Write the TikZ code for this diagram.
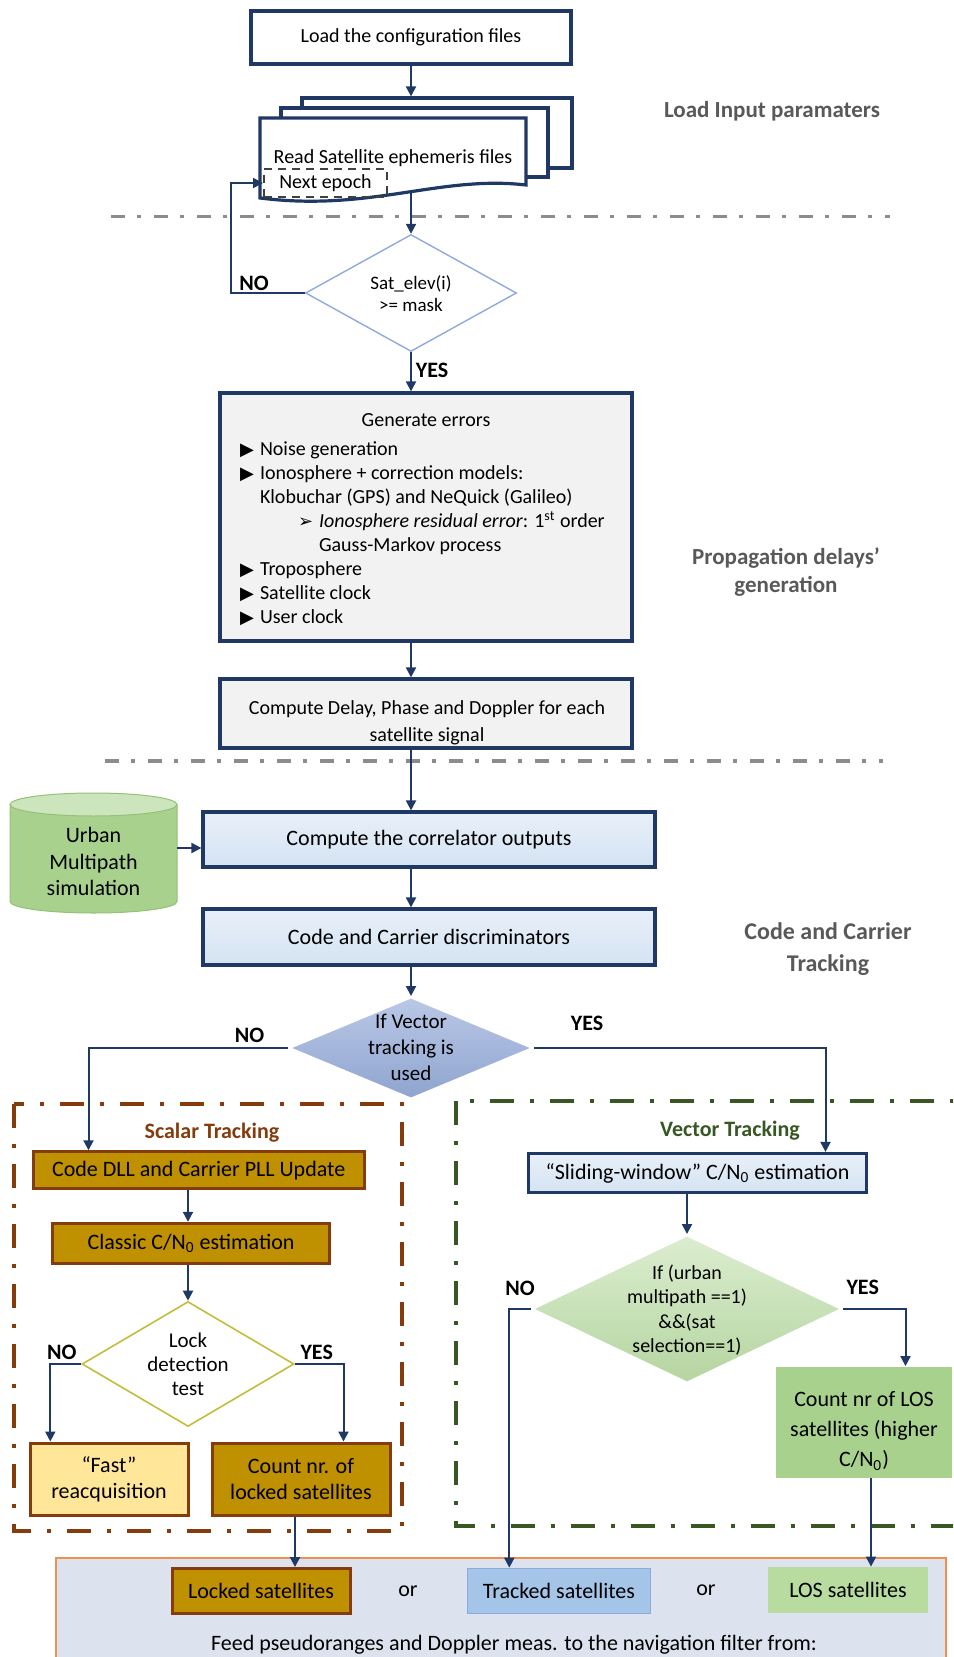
\documentclass[tikz,border=0pt]{standalone}
\usepackage{fontspec}
\setmainfont{Carlito}
\newfontfamily\symfnt{DejaVu Sans}
\usetikzlibrary{shapes.geometric,arrows.meta}

\definecolor{navyLine}{HTML}{1F3864}
\definecolor{sepGray}{HTML}{8C8C8C}
\definecolor{labelGray}{HTML}{595959}
\definecolor{paleGray}{HTML}{F2F2F2}
\definecolor{paleBlue}{HTML}{E8F0F9}
\definecolor{paleBlueDark}{HTML}{D4E3F2}
\definecolor{diaBlue}{HTML}{8FAADC}
\definecolor{vecTop}{HTML}{BAC8E6}
\definecolor{vecBottom}{HTML}{8EA4CF}
\definecolor{rustLine}{HTML}{843C0C}
\definecolor{goldFill}{HTML}{BF9000}
\definecolor{sandFill}{HTML}{FFE699}
\definecolor{lockLine}{HTML}{C4BD3C}
\definecolor{forest}{HTML}{385723}
\definecolor{selTop}{HTML}{DCEDD0}
\definecolor{selBottom}{HTML}{B5D5A0}
\definecolor{losFill}{HTML}{A9D18E}
\definecolor{losLight}{HTML}{B8DCA0}
\definecolor{trackFill}{HTML}{A4C5E8}
\definecolor{feedFill}{HTML}{DCE3EE}
\definecolor{feedLine}{HTML}{F0904F}
\definecolor{cylTop}{HTML}{CDE5BD}
\definecolor{cylBody}{HTML}{A9D18E}
\definecolor{cylLine}{HTML}{93C175}

\newcommand\bul{\hspace*{7pt}\makebox[10pt][l]{{\symfnt\fontsize{9}{9}\selectfont ▶}}}

\tikzset{
  every node/.style={font=\fontsize{10}{12}\selectfont},
  navybox/.style={draw=navyLine,line width=1.6pt,rectangle,fill=white,align=center,inner sep=0pt},
  icebox/.style={navybox,shade,top color=paleBlue,bottom color=paleBlueDark,font=\fontsize{11}{13}\selectfont},
  goldbox/.style={draw=rustLine,line width=1.5pt,fill=goldFill,align=center,inner sep=0pt,font=\fontsize{11}{13}\selectfont},
  decision/.style={diamond,inner sep=0pt},
  flow/.style={draw=navyLine,line width=1pt,-{Triangle[length=5pt,width=5pt]}},
  answer/.style={font=\bfseries\fontsize{11}{13}\selectfont},
  phase/.style={font=\bfseries\fontsize{11.5}{14}\selectfont,text=labelGray,align=center},
  separator/.style={draw=sepGray,line width=1.6pt,dash pattern=on 7pt off 6pt on 2pt off 6.5pt},
  lowtext/.style={font=\fontsize{11}{13}\selectfont,align=center,inner sep=0pt},
}

\begin{document}
\begin{tikzpicture}[x=0.5pt,y=-0.5pt]%
  \useasboundingbox (0,0) rectangle (953,1657);
  \clip (0,0) rectangle (953,1657);

  \draw[separator] (111,216.7) -- (890,216.7);
  \draw[separator] (105,761) -- (883,761);
  \draw[rustLine,line width=1.6pt,dash pattern=on 12pt off 8pt on 2pt off 8pt] (14,1104) rectangle (402,1531);
  \draw[forest,line width=1.6pt,dash pattern=on 12pt off 8pt on 2pt off 8pt] (456,1101) rectangle (990,1526);
  \draw[feedLine,line width=0.8pt,fill=feedFill] (56,1558) rectangle (946,1700);

  \node[navybox,minimum width=160pt,minimum height=26.5pt] (cfg) at (411,37.5) {Load the configuration files};

  \node[navybox,minimum width=135pt,minimum height=35pt] (ephBack) at (437,133) {};
  \node[navybox,minimum width=133.5pt,minimum height=34.5pt] (ephMid) at (414.5,142.5) {};
  \draw[navyLine,line width=1.6pt,fill=white] (260,118) -- (526,118) -- (526,185) .. controls (440,175) and (370,212) .. (260,198) -- cycle;
  \node (eph) at (393,158) {Read Satellite ephemeris files};
  \node[draw=black!75,line width=1pt,dash pattern=on 4pt off 3pt,minimum width=61.5pt,minimum height=14pt,inner sep=0pt] (nxt) at (325.5,183) {\raisebox{-3.5pt}{Next epoch}};
  \coordinate (ephOut) at (411,192);

  \node[decision,draw=diaBlue,line width=0.7pt,fill=white,minimum width=105.5pt,minimum height=58.5pt] (sat) at (411,293) {};
  \node[font=\fontsize{9.5}{11}\selectfont,align=center] (satText) at (411,294) {Sat\_elev(i)\\>= mask};

  \node[navybox,fill=paleGray,minimum width=206pt,minimum height=124pt] (gen) at (426,517) {%
    \begin{minipage}{200pt}
      \vspace*{3pt}
      \centering Generate errors\par\vspace{2.5pt}\raggedright
      \bul Noise generation\par
      \bul Ionosphere + correction models:\par
      \hspace*{17pt}Klobuchar (GPS) and NeQuick (Galileo)\par
      \hspace*{36pt}\makebox[10.5pt][l]{{\symfnt\fontsize{9}{9}\selectfont ➢}}\textit{Ionosphere residual error}: 1\textsuperscript{st} order\par
      \hspace*{46.5pt}Gauss-Markov process\par
      \bul Troposphere\par
      \bul Satellite clock\par
      \bul User clock
    \end{minipage}};

  \node[navybox,fill=paleGray,minimum width=206pt,minimum height=34.5pt] (delay) at (426,713.5) {};
  \node[align=center,font=\fontsize{10}{13.3}\selectfont] (delayText) at (427,722.5) {Compute Delay, Phase and Doppler for each\\satellite signal};

  \node[icebox,minimum width=226pt,minimum height=27.5pt] (corr) at (429,839.5) {Compute the correlator outputs};
  \node[icebox,minimum width=226pt,minimum height=28pt] (disc) at (429,937) {Code and Carrier discriminators};
  \draw[cylLine,line width=0.5pt,fill=cylBody] (10,804.5) -- (10,901.5) arc[start angle=180,end angle=360,x radius=41.75pt,y radius=5.75pt] -- (177,804.5) -- cycle;
  \draw[cylLine,line width=0.5pt,fill=cylTop] (93.5,804.5) ellipse[x radius=41.75pt,y radius=5.75pt];
  \node[align=center,font=\fontsize{11}{13.3}\selectfont] (urban) at (93.5,861.7) {Urban\\Multipath\\simulation};
  \coordinate (urbanEdge) at (177,848);

  \node[decision,draw=white,line width=1pt,shade,top color=vecTop,bottom color=vecBottom,minimum width=122pt,minimum height=51pt] (vec) at (411,1048) {};
  \node[font=\fontsize{10.5}{13}\selectfont,align=center] (vecText) at (411,1047) {If Vector\\tracking is\\used};

  \node[font=\bfseries\fontsize{11}{13}\selectfont,text=rustLine] (scalarTitle) at (212,1133) {Scalar Tracking};
  \node[goldbox,minimum width=165.5pt,minimum height=18.5pt] (dll) at (198.7,1170.3) {Code DLL and Carrier PLL Update};
  \node[goldbox,minimum width=138.5pt,minimum height=20pt] (cn0) at (191,1243.3) {Classic C/N\textsubscript{0} estimation};
  \node[decision,draw=lockLine,line width=0.8pt,fill=white,minimum width=106pt,minimum height=62.5pt] (lock) at (188,1364) {};
  \node[font=\fontsize{10.5}{12}\selectfont,align=center] (lockText) at (188,1364) {Lock\\detection\\test};
  \node[goldbox,fill=sandFill,minimum width=79pt,minimum height=36pt] (fast) at (109,1479) {“Fast”\\reacquisition};
  \node[goldbox,minimum width=89pt,minimum height=36pt] (cnt) at (301,1479) {Count nr. of\\locked satellites};

  \node[font=\bfseries\fontsize{11}{13}\selectfont,text=forest] (vectorTitle) at (730,1131) {Vector Tracking};
  \node[icebox,minimum width=169pt,minimum height=19.5pt] (slide) at (697.5,1173) {“Sliding-window” C/N\textsubscript{0} estimation};
  \node[decision,draw=white,line width=1pt,shade,top color=selTop,bottom color=selBottom,minimum width=155pt,minimum height=74pt] (sel) at (687,1309) {};
  \node[font=\fontsize{10}{12.2}\selectfont,align=center] (selText) at (687,1310) {If (urban\\multipath ==1)\\\&\&(sat\\selection==1)};
  \node[fill=losFill,minimum width=88pt,minimum height=55.5pt,inner sep=0pt] (losCount) at (864,1422) {};
  \node[align=center,font=\fontsize{11}{15}\selectfont] (losText) at (864,1431) {Count nr of LOS\\satellites (higher\\C/N\textsubscript{0})};

  \node[goldbox,minimum width=89pt,minimum height=22.5pt] (locked) at (261,1591) {Locked satellites};
  \node[lowtext] (orA) at (408,1591) {or};
  \node[lowtext,draw=diaBlue,line width=0.8pt,fill=trackFill,minimum width=91.5pt,minimum height=22.5pt] (tracked) at (559,1591) {Tracked satellites};
  \node[lowtext] (orB) at (706,1590) {or};
  \node[lowtext,fill=losLight,minimum width=80pt,minimum height=23pt] (losSat) at (848,1590) {LOS satellites};
  \node[lowtext] (feed) at (514,1645) {Feed pseudoranges and Doppler meas. to the navigation filter from:};

  \node[phase] (inputLbl) at (772,111) {Load Input paramaters};
  \node[phase] (propLbl) at (786,572) {Propagation delays’\\generation};
  \node[phase,font=\bfseries\fontsize{12}{15.8}\selectfont] (trackLbl) at (828,949) {Code and Carrier\\Tracking};

  \node[answer] (satNo) at (254,283) {NO};
  \node[answer] (satYes) at (432,370) {YES};
  \node[answer] (vecNo) at (249.5,1035) {NO};
  \node[answer] (vecYes) at (587,1023) {YES};
  \node[answer] (lockNo) at (61.7,1352) {NO};
  \node[answer] (lockYes) at (316.7,1352) {YES};
  \node[answer] (selNo) at (520,1288) {NO};
  \node[answer] (selYes) at (862.7,1287) {YES};

  \draw[flow] (cfg) -- (cfg |- ephBack.north);
  \draw[flow] (ephOut) -- (sat.north);
  \draw[flow] (sat.west) -- ++(-74,0) |- (nxt.west);
  \draw[flow] (sat.south) -- (sat.south |- gen.north);
  \draw[flow] (sat |- gen.south) -- (sat |- delay.north);
  \draw[flow] (sat |- delay.south) -- (sat |- corr.north);
  \draw[flow] (urbanEdge) -- (urbanEdge -| corr.west);
  \draw[flow] (sat |- corr.south) -- (sat |- disc.north);
  \draw[flow] (sat |- disc.south) -- (vec.north);
  \draw[flow] (vec.west) -| ([xshift=28.4pt]dll.north west);
  \draw[flow] (vec.east) -| ([xshift=-21.3pt]slide.north east);
  \draw[flow] (lock |- dll.south) -- (lock |- cn0.north);
  \draw[flow] (lock |- cn0.south) -- (lock.north);
  \draw[flow] (lock.west) -| ([xshift=10.9pt]fast.north west);
  \draw[flow] (lock.east) -| ([xshift=-24pt]cnt.north east);
  \draw[flow] ([xshift=-3pt]cnt.south) -- ([xshift=-3pt]cnt.south |- locked.north);
  \draw[flow] (sel |- slide.south) -- (sel.north);
  \draw[flow] (sel.west) -| ([xshift=21.3pt]tracked.north west);
  \draw[flow] (sel.east) -| ([xshift=20.75pt]losCount.north);
  \draw[flow] ([xshift=3.5pt]losCount.south) -- ([xshift=3.5pt]losCount.south |- losSat.north);
\end{tikzpicture}
\end{document}
